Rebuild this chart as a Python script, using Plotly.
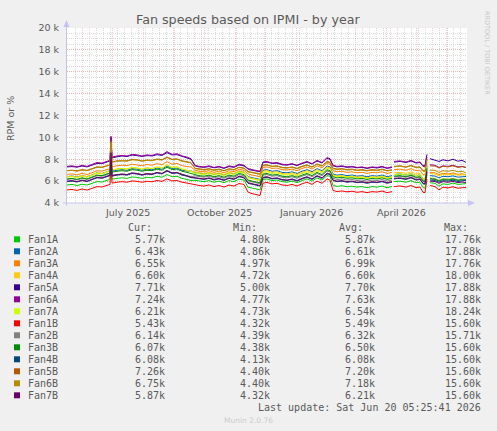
import pandas as pd
import plotly.graph_objects as go

# ---------------- data ----------------
START = pd.Timestamp("2025-05-17")
DAY_OFFSETS = [0, 5, 10, 15, 20, 25, 30, 35, 40, 43,
               44, 45,
               50, 55, 60, 65, 70, 75, 80, 85, 90, 95, 100, 105, 110, 115, 120,
               124, 128,
               132, 137, 142, 147, 152, 157, 162, 167, 172, 177,
               181, 185, 189, 193,
               196, 200,
               205, 210, 215, 220, 225, 230, 235, 240, 245, 250, 255, 260,
               263, 266, 270,
               275, 280, 285, 290, 295, 300, 305, 310, 315, 320, 325,
               326,
               327, 333, 339, 344, 349, 353,
               356, 358, 360, 361,
               363, 368, 372, 376, 381, 386, 391, 395, 399]

NAMES = ["Fan1A", "Fan2A", "Fan3A", "Fan4A", "Fan5A", "Fan6A", "Fan7A",
         "Fan1B", "Fan2B", "Fan3B", "Fan4B", "Fan5B", "Fan6B", "Fan7B"]
COLORS = ["#00CC00", "#0066B3", "#FF8000", "#FFCC00", "#330099", "#990099", "#CCFF00",
          "#FF0000", "#808080", "#008F00", "#00487D", "#B35A00", "#B38F00", "#6B006B"]

# values in thousands of RPM
FAN1A = [5.65, 5.70, 5.60, 5.72, 5.64, 5.80, 5.95, 5.92, 6.06, 6.16,
         8.20, 6.18,
         6.25, 6.30, 6.25, 6.38, 6.34, 6.25, 6.35, 6.30, 6.44, 6.36, 6.60, 6.40, 6.44, 6.25, 6.15,
         6.05, 6.08,
         6.00, 5.95, 6.05, 5.90, 6.00, 5.86, 6.05, 5.95, 6.18, 6.10,
         5.45, 5.35, 5.28, 5.20,
         6.15, 6.20,
         6.05, 6.10, 5.95, 5.90, 6.00, 5.86, 6.05, 6.20, 6.00, 6.30, 6.10, 6.50,
         6.45, 5.62, 5.52,
         5.58, 5.48, 5.54, 5.45, 5.50, 5.40, 5.50, 5.45, 5.55, 5.40, 5.50,
         None,
         5.95, 6.00, 5.90, 6.05, 5.85, 5.90,
         5.40, 5.36, 6.60, None,
         5.85, 5.80, 5.55, 5.75, 5.70, 5.82, 5.70, 5.76, 5.77]
FAN2A = [6.40, 6.46, 6.36, 6.50, 6.40, 6.58, 6.74, 6.70, 6.84, 6.95,
         9.10, 6.92,
         7.00, 7.06, 7.00, 7.14, 7.10, 7.00, 7.10, 7.04, 7.20, 7.10, 7.38, 7.16, 7.20, 7.00, 6.92,
         6.90, 6.78,
         6.70, 6.66, 6.74, 6.60, 6.70, 6.56, 6.75, 6.66, 6.88, 6.80,
         6.40, 6.30, 6.25, 6.15,
         7.00, 7.05,
         6.90, 6.95, 6.80, 6.76, 6.85, 6.70, 6.90, 7.05, 6.86, 7.14, 6.95, 7.38,
         7.30, 6.65, 6.55,
         6.60, 6.50, 6.56, 6.45, 6.50, 6.40, 6.50, 6.45, 6.56, 6.40, 6.50,
         None,
         6.60, 6.66, 6.55, 6.70, 6.50, 6.56,
         6.10, 6.08, 7.40, None,
         6.50, 6.46, 6.30, 6.44, 6.40, 6.48, 6.36, 6.42, 6.43]
FAN3A = [6.62, 6.66, 6.57, 6.72, 6.60, 6.80, 6.94, 6.92, 7.05, 7.14,
         9.30, 7.32,
         7.40, 7.46, 7.42, 7.55, 7.48, 7.40, 7.52, 7.45, 7.60, 7.50, 7.78, 7.55, 7.62, 7.42, 7.32,
         7.30, 7.00,
         6.90, 6.86, 6.95, 6.80, 6.92, 6.76, 6.94, 6.86, 7.08, 7.00,
         6.66, 6.56, 6.50, 6.40,
         7.25, 7.30,
         7.16, 7.20, 7.05, 7.02, 7.10, 6.96, 7.16, 7.30, 7.10, 7.40, 7.22, 7.62,
         7.55, 6.95, 6.86,
         6.90, 6.80, 6.85, 6.76, 6.80, 6.70, 6.80, 6.76, 6.86, 6.70, 6.80,
         None,
         7.05, 7.10, 7.00, 7.14, 6.96, 7.00,
         6.60, 6.58, 7.70, None,
         6.80, 6.76, 6.60, 6.72, 6.66, 6.74, 6.62, 6.68, 6.55]
FAN4A = [6.42, 6.44, 6.35, 6.52, 6.38, 6.60, 6.76, 6.70, 6.86, 6.95,
         9.20, 7.02,
         7.12, 7.16, 7.10, 7.26, 7.20, 7.10, 7.22, 7.14, 7.30, 7.20, 7.50, 7.25, 7.30, 7.10, 7.00,
         6.90, 6.82,
         6.76, 6.70, 6.80, 6.66, 6.76, 6.60, 6.80, 6.70, 6.94, 6.85,
         6.36, 6.25, 6.20, 6.10,
         6.90, 6.95,
         6.80, 6.86, 6.70, 6.66, 6.75, 6.60, 6.80, 6.95, 6.75, 7.05, 6.86, 7.30,
         7.20, 6.56, 6.46,
         6.50, 6.40, 6.46, 6.35, 6.40, 6.30, 6.40, 6.36, 6.46, 6.30, 6.40,
         None,
         6.75, 6.80, 6.70, 6.86, 6.65, 6.70,
         6.25, 6.22, 7.50, None,
         6.70, 6.66, 6.50, 6.62, 6.56, 6.65, 6.55, 6.60, 6.60]
FAN5A = [7.30, 7.33, 7.28, 7.38, 7.30, 7.48, 7.62, 7.60, 7.72, 7.84,
         10.00, 8.12,
         8.22, 8.30, 8.25, 8.38, 8.33, 8.26, 8.33, 8.30, 8.42, 8.35, 8.60, 8.40, 8.42, 8.25, 8.14,
         8.00, 7.40,
         7.30, 7.26, 7.33, 7.22, 7.30, 7.17, 7.33, 7.26, 7.48, 7.40,
         7.10, 7.00, 6.96, 6.86,
         7.70, 7.74,
         7.62, 7.64, 7.50, 7.46, 7.55, 7.42, 7.60, 7.74, 7.56, 7.84, 7.66, 8.08,
         8.00, 7.40, 7.30,
         7.35, 7.26, 7.30, 7.22, 7.26, 7.16, 7.26, 7.20, 7.30, 7.17, 7.25,
         None,
         7.74, 7.80, 7.70, 7.84, 7.66, 7.70,
         7.40, 7.45, 8.45, None,
         8.05, 7.95, 7.80, 7.95, 7.85, 8.00, 7.82, 7.90, 7.71]
FAN6A = [7.35, 7.40, 7.30, 7.45, 7.35, 7.55, 7.70, 7.65, 7.80, 7.90,
         10.10, 8.20,
         8.30, 8.35, 8.30, 8.45, 8.40, 8.30, 8.40, 8.35, 8.50, 8.40, 8.70, 8.45, 8.50, 8.30, 8.20,
         8.05, 7.45,
         7.35, 7.30, 7.40, 7.25, 7.35, 7.20, 7.40, 7.30, 7.55, 7.45,
         7.15, 7.05, 7.00, 6.90,
         7.75, 7.80,
         7.65, 7.70, 7.55, 7.50, 7.60, 7.45, 7.65, 7.80, 7.60, 7.90, 7.70, 8.15,
         8.05, 7.45, 7.35,
         7.40, 7.30, 7.35, 7.25, 7.30, 7.20, 7.30, 7.25, 7.35, 7.20, 7.30,
         None,
         7.80, 7.85, 7.75, 7.90, 7.70, 7.75,
         7.35, 7.30, 8.20, None,
         7.50, 7.45, 7.25, 7.40, 7.35, 7.45, 7.30, 7.35, 7.24]
FAN7A = [6.35, 6.42, 6.30, 6.46, 6.36, 6.54, 6.70, 6.66, 6.80, 6.92,
         9.15, 7.00,
         7.10, 7.14, 7.10, 7.24, 7.20, 7.08, 7.20, 7.15, 7.30, 7.18, 7.48, 7.24, 7.28, 7.10, 6.98,
         6.88, 6.72,
         6.66, 6.60, 6.70, 6.56, 6.66, 6.50, 6.70, 6.60, 6.84, 6.75,
         6.30, 6.20, 6.15, 6.05,
         6.80, 6.86,
         6.70, 6.76, 6.60, 6.56, 6.65, 6.50, 6.70, 6.85, 6.65, 6.95, 6.76, 7.20,
         7.10, 6.50, 6.40,
         6.45, 6.35, 6.40, 6.30, 6.36, 6.25, 6.35, 6.30, 6.40, 6.26, 6.35,
         None,
         6.60, 6.65, 6.55, 6.70, 6.50, 6.56,
         6.12, 6.10, 7.30, None,
         6.30, 6.26, 6.10, 6.24, 6.18, 6.26, 6.15, 6.20, 6.21]
FAN1B = [5.20, 5.24, 5.15, 5.28, 5.18, 5.36, 5.50, 5.46, 5.60, 5.70,
         7.80, 5.82,
         5.90, 5.95, 5.90, 6.02, 5.98, 5.90, 5.98, 5.94, 6.06, 5.98, 6.20, 6.02, 6.06, 5.90, 5.82,
         5.72, 5.68,
         5.60, 5.55, 5.65, 5.50, 5.60, 5.46, 5.64, 5.55, 5.78, 5.70,
         5.00, 4.85, 4.78, 4.68,
         5.82, 5.88,
         5.75, 5.80, 5.65, 5.60, 5.70, 5.56, 5.75, 5.90, 5.70, 6.00, 5.80, 6.20,
         6.10, 5.15, 5.05,
         5.10, 5.02, 5.08, 4.98, 5.04, 4.95, 5.04, 5.00, 5.10, 4.95, 5.04,
         None,
         5.50, 5.56, 5.45, 5.60, 5.40, 5.46,
         4.98, 4.95, 6.20, None,
         5.60, 5.50, 5.20, 5.45, 5.38, 5.48, 5.35, 5.42, 5.43]
FAN2B = [6.15, 6.22, 6.10, 6.26, 6.15, 6.35, 6.50, 6.45, 6.60, 6.70,
         8.80, 6.55,
         6.60, 6.66, 6.60, 6.75, 6.70, 6.60, 6.70, 6.65, 6.80, 6.70, 6.98, 6.76, 6.80, 6.60, 6.50,
         6.40, 6.48,
         6.40, 6.36, 6.45, 6.30, 6.40, 6.26, 6.45, 6.35, 6.60, 6.50,
         6.02, 5.92, 5.86, 5.76,
         6.55, 6.60,
         6.45, 6.50, 6.35, 6.30, 6.40, 6.26, 6.45, 6.60, 6.40, 6.70, 6.50, 6.92,
         6.85, 6.26, 6.15,
         6.20, 6.10, 6.15, 6.05, 6.10, 6.00, 6.10, 6.05, 6.15, 6.00, 6.10,
         None,
         6.40, 6.45, 6.35, 6.50, 6.30, 6.36,
         5.95, 5.92, 7.10, None,
         6.25, 6.22, 6.05, 6.20, 6.15, 6.24, 6.10, 6.18, 6.14]
FAN3B = [6.20, 6.25, 6.16, 6.30, 6.20, 6.40, 6.55, 6.50, 6.64, 6.75,
         9.00, 6.82,
         6.90, 6.95, 6.90, 7.05, 7.00, 6.90, 7.00, 6.95, 7.10, 7.00, 7.28, 7.05, 7.10, 6.90, 6.80,
         6.70, 6.58,
         6.50, 6.45, 6.55, 6.40, 6.50, 6.36, 6.55, 6.45, 6.70, 6.60,
         6.10, 6.00, 5.94, 5.85,
         6.65, 6.70,
         6.55, 6.60, 6.45, 6.40, 6.50, 6.36, 6.55, 6.70, 6.50, 6.80, 6.60, 7.05,
         6.95, 6.40, 6.30,
         6.35, 6.26, 6.30, 6.20, 6.25, 6.15, 6.25, 6.20, 6.30, 6.16, 6.25,
         None,
         6.45, 6.50, 6.40, 6.55, 6.36, 6.40,
         6.00, 5.98, 7.20, None,
         6.20, 6.16, 6.00, 6.14, 6.10, 6.18, 6.06, 6.12, 6.07]
FAN4B = [5.95, 6.00, 5.92, 6.05, 5.96, 6.15, 6.30, 6.26, 6.40, 6.50,
         8.40, 6.45,
         6.55, 6.60, 6.55, 6.70, 6.65, 6.55, 6.65, 6.60, 6.75, 6.66, 6.92, 6.70, 6.75, 6.55, 6.45,
         6.32, 6.28,
         6.20, 6.15, 6.25, 6.10, 6.20, 6.06, 6.25, 6.15, 6.40, 6.30,
         5.80, 5.70, 5.64, 5.55,
         6.30, 6.35,
         6.20, 6.25, 6.10, 6.05, 6.15, 6.00, 6.20, 6.35, 6.15, 6.45, 6.25, 6.66,
         6.60, 6.05, 5.95,
         6.00, 5.90, 5.95, 5.86, 5.90, 5.80, 5.90, 5.86, 5.95, 5.80, 5.90,
         None,
         6.20, 6.25, 6.15, 6.30, 6.10, 6.15,
         5.75, 5.72, 6.80, None,
         6.10, 6.06, 5.90, 6.04, 6.00, 6.08, 5.96, 6.02, 6.08]
FAN5B = [6.97, 7.00, 6.95, 7.05, 6.99, 7.15, 7.30, 7.28, 7.40, 7.50,
         9.70, 7.75,
         7.85, 7.88, 7.86, 7.98, 7.95, 7.84, 7.93, 7.90, 8.02, 7.96, 8.20, 8.00, 8.03, 7.86, 7.76,
         7.70, 7.18,
         7.10, 7.06, 7.14, 7.02, 7.10, 6.96, 7.13, 7.06, 7.28, 7.20,
         6.88, 6.80, 6.76, 6.66,
         7.45, 7.50,
         7.36, 7.40, 7.26, 7.22, 7.30, 7.17, 7.36, 7.48, 7.30, 7.58, 7.40, 7.80,
         7.72, 7.18, 7.10,
         7.14, 7.06, 7.10, 7.00, 7.05, 6.97, 7.05, 7.00, 7.10, 6.96, 7.04,
         None,
         7.35, 7.40, 7.30, 7.44, 7.27, 7.30,
         6.95, 6.92, 8.00, None,
         7.40, 7.38, 7.20, 7.35, 7.30, 7.40, 7.25, 7.32, 7.26]
FAN6B = [6.94, 6.98, 6.90, 7.02, 6.95, 7.12, 7.26, 7.24, 7.36, 7.46,
         9.55, 7.72,
         7.82, 7.86, 7.82, 7.95, 7.92, 7.82, 7.90, 7.86, 7.98, 7.92, 8.16, 7.96, 8.00, 7.82, 7.72,
         7.66, 7.14,
         7.06, 7.02, 7.10, 6.98, 7.06, 6.93, 7.10, 7.02, 7.24, 7.16,
         6.84, 6.77, 6.72, 6.63,
         7.42, 7.46,
         7.33, 7.37, 7.22, 7.19, 7.27, 7.13, 7.32, 7.45, 7.27, 7.55, 7.37, 7.76,
         7.68, 7.14, 7.06,
         7.10, 7.02, 7.06, 6.97, 7.02, 6.93, 7.01, 6.96, 7.06, 6.93, 7.00,
         None,
         7.31, 7.36, 7.26, 7.40, 7.23, 7.26,
         6.90, 6.88, 7.95, None,
         7.02, 6.98, 6.80, 6.95, 6.90, 6.98, 6.85, 6.90, 6.75]
FAN7B = [6.00, 6.06, 5.95, 6.10, 6.00, 6.20, 6.35, 6.30, 6.45, 6.55,
         8.60, 6.50,
         6.58, 6.64, 6.60, 6.74, 6.70, 6.58, 6.68, 6.64, 6.78, 6.70, 6.96, 6.74, 6.78, 6.60, 6.48,
         6.36, 6.32,
         6.25, 6.20, 6.30, 6.15, 6.25, 6.10, 6.30, 6.20, 6.44, 6.35,
         5.85, 5.75, 5.70, 5.60,
         6.35, 6.40,
         6.25, 6.30, 6.15, 6.10, 6.20, 6.06, 6.25, 6.40, 6.20, 6.50, 6.30, 6.72,
         6.65, 6.10, 6.00,
         6.05, 5.95, 6.00, 5.90, 5.95, 5.86, 5.95, 5.90, 6.00, 5.86, 5.95,
         None,
         6.25, 6.30, 6.20, 6.35, 6.15, 6.20,
         5.80, 5.78, 6.90, None,
         6.00, 5.96, 5.80, 5.95, 5.90, 5.98, 5.86, 5.92, 5.87]

SERIES = [FAN1A, FAN2A, FAN3A, FAN4A, FAN5A, FAN6A, FAN7A,
          FAN1B, FAN2B, FAN3B, FAN4B, FAN5B, FAN6B, FAN7B]

CUR = ["5.77k", "6.43k", "6.55k", "6.60k", "7.71k", "7.24k", "6.21k",
       "5.43k", "6.14k", "6.07k", "6.08k", "7.26k", "6.75k", "5.87k"]
MIN = ["4.80k", "4.86k", "4.97k", "4.72k", "5.00k", "4.77k", "4.73k",
       "4.32k", "4.39k", "4.38k", "4.13k", "4.40k", "4.40k", "4.32k"]
AVG = ["5.87k", "6.61k", "6.99k", "6.60k", "7.70k", "7.63k", "6.54k",
       "5.49k", "6.32k", "6.50k", "6.08k", "7.20k", "7.18k", "6.21k"]
MAX = ["17.76k", "17.88k", "17.76k", "18.00k", "17.88k", "17.88k", "18.24k",
       "15.60k", "15.71k", "15.60k", "15.60k", "15.60k", "15.60k", "15.60k"]

Y_TICKS = [4, 6, 8, 10, 12, 14, 16, 18, 20]
Y_TICK_TEXT = ["4 k", "6 k", "8 k", "10 k", "12 k", "14 k", "16 k", "18 k", "20 k"]
X_LABEL_DATES = ["2025-07-16", "2025-10-16", "2026-01-16", "2026-04-16"]
X_LABELS = ["July 2025", "October 2025", "January 2026", "April 2026"]

TITLE = "Fan speeds based on IPMI - by year"
LAST_UPDATE = "Last update: Sat Jun 20 05:25:41 2026"

# ---------------- layout geometry (pixels) ----------------
W, H = 497, 431
PL, PR, PT, PB = 67, 467, 28, 203  # plot area


def pxx(x):
    return (x - PL) / (PR - PL)


def pxy(y):
    return (PB - y) / (PB - PT)


dates = [START + pd.Timedelta(days=d) for d in DAY_OFFSETS]

fig = go.Figure()
for name, color, vals in zip(NAMES, COLORS, SERIES):
    fig.add_trace(go.Scatter(x=dates, y=vals, mode="lines", name=name,
                             line=dict(color=color, width=1), connectgaps=False,
                             showlegend=False))

MAJOR = "rgba(240,150,150,0.55)"
MINOR = "rgba(190,190,190,0.55)"
TXT = "#5a5a5a"
MONO = "DejaVu Sans Mono"
SANS = "DejaVu Sans"

fig.update_layout(
    width=W, height=H, autosize=False,
    margin=dict(l=PL, r=W - PR, t=PT, b=H - PB, pad=0),
    paper_bgcolor="#F0F0F0", plot_bgcolor="#FFFFFF",
    font=dict(family=SANS, size=10, color=TXT),
    xaxis=dict(
        type="date", range=[START, START + pd.Timedelta(days=400)],
        showticklabels=False, ticks="",
        dtick="M1", tick0="2025-06-01",
        showgrid=True, gridcolor=MAJOR, gridwidth=1, griddash="1px,1px",
        minor=dict(dtick=7 * 86400000, tick0="2025-05-18", showgrid=True,
                   gridcolor=MINOR, gridwidth=1, griddash="1px,1px"),
        zeroline=False, showline=False, fixedrange=True,
    ),
    yaxis=dict(
        range=[4, 20], tickmode="array", tickvals=Y_TICKS, ticktext=Y_TICK_TEXT,
        tickfont=dict(family=SANS, size=9.5, color=TXT), ticks="",
        ticklabelstandoff=7,
        showgrid=True, gridcolor=MAJOR, gridwidth=1, griddash="1px,1px",
        minor=dict(dtick=0.5, tick0=4, showgrid=True, gridcolor=MINOR,
                   gridwidth=1, griddash="1px,1px"),
        zeroline=False, showline=False, fixedrange=True,
    ),
)

annotations = []
shapes = []

# title
annotations.append(dict(text=TITLE, x=pxx(248), y=pxy(19.5), xref="paper", yref="paper",
                        xanchor="center", yanchor="middle", showarrow=False,
                        font=dict(family=SANS, size=12.7, color=TXT)))
# y-axis title
annotations.append(dict(text="RPM or %", x=pxx(10), y=pxy(119), xref="paper", yref="paper",
                        xanchor="center", yanchor="middle", showarrow=False, textangle=-90,
                        font=dict(family=SANS, size=9.5, color=TXT)))
# watermark
annotations.append(dict(text="RRDTOOL / TOBI OETIKER", x=pxx(487), y=pxy(53), xref="paper",
                        yref="paper", xanchor="center", yanchor="middle", showarrow=False,
                        textangle=90, font=dict(family=SANS, size=6.5, color="#C8C8C8")))
# x tick labels
for d, lab in zip(X_LABEL_DATES, X_LABELS):
    annotations.append(dict(text=lab, x=d, y=pxy(212.5), xref="x", yref="paper",
                            xanchor="center", yanchor="middle", showarrow=False,
                            font=dict(family=SANS, size=9.5, color=TXT)))

# axes with arrows
AX = "#C4C4F4"
shapes.append(dict(type="line", xref="paper", yref="paper", x0=pxx(66.5), x1=pxx(66.5),
                   y0=pxy(206), y1=pxy(24), line=dict(color=AX, width=1)))
shapes.append(dict(type="line", xref="paper", yref="paper", x0=pxx(63), x1=pxx(470),
                   y0=pxy(203), y1=pxy(203), line=dict(color=AX, width=1)))
shapes.append(dict(type="path", xref="paper", yref="paper",
                   path=f"M {pxx(63.5)} {pxy(27)} L {pxx(69.5)} {pxy(27)} L {pxx(66.5)} {pxy(20)} Z",
                   fillcolor=AX, line=dict(color=AX, width=0)))
shapes.append(dict(type="path", xref="paper", yref="paper",
                   path=f"M {pxx(468)} {pxy(200)} L {pxx(468)} {pxy(206)} L {pxx(475)} {pxy(203)} Z",
                   fillcolor=AX, line=dict(color=AX, width=0)))

# legend table
HEAD_Y = 227.5
ROW0 = 239.3
ROW_DY = 12
COL_ENDS = [167, 272, 377, 483]
HEAD_ENDS = [154, 259, 365, 470]
for hx, htxt in zip(HEAD_ENDS, ["Cur:", "Min:", "Avg:", "Max:"]):
    annotations.append(dict(text=htxt, x=pxx(hx), y=pxy(HEAD_Y), xref="paper", yref="paper",
                            xanchor="right", yanchor="middle", showarrow=False,
                            font=dict(family=MONO, size=10, color=TXT)))
for i, (name, color) in enumerate(zip(NAMES, COLORS)):
    ry = ROW0 + i * ROW_DY
    shapes.append(dict(type="rect", xref="paper", yref="paper",
                       x0=pxx(14), x1=pxx(20), y0=pxy(ry + 3), y1=pxy(ry - 3),
                       fillcolor=color, line=dict(width=0)))
    annotations.append(dict(text=name, x=pxx(26), y=pxy(ry), xref="paper", yref="paper",
                            xanchor="left", yanchor="middle", showarrow=False,
                            font=dict(family=MONO, size=10, color=TXT)))
    for cx, txt in zip(COL_ENDS, [CUR[i], MIN[i], AVG[i], MAX[i]]):
        annotations.append(dict(text=txt, x=pxx(cx), y=pxy(ry), xref="paper", yref="paper",
                                xanchor="right", yanchor="middle", showarrow=False,
                                font=dict(family=MONO, size=10, color=TXT)))

annotations.append(dict(text=LAST_UPDATE, x=pxx(483), y=pxy(407.3), xref="paper", yref="paper",
                        xanchor="right", yanchor="middle", showarrow=False,
                        font=dict(family=MONO, size=10, color=TXT)))
annotations.append(dict(text="Munin 2.0.76", x=pxx(248), y=pxy(420), xref="paper", yref="paper",
                        xanchor="center", yanchor="middle", showarrow=False,
                        font=dict(family=SANS, size=7.5, color="#CCCCCC")))

fig.update_layout(annotations=annotations, shapes=shapes)
fig.write_html("out.html")
